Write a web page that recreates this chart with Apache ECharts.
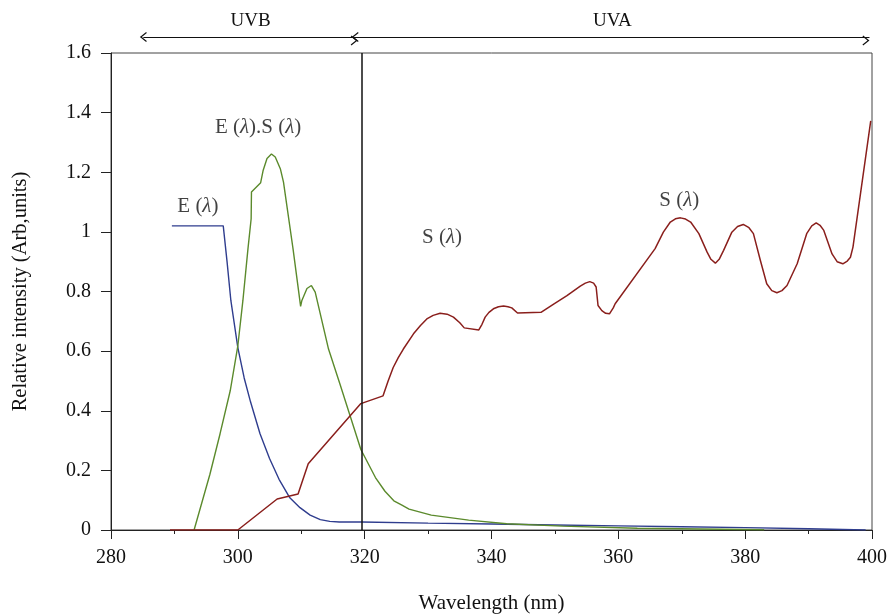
<!DOCTYPE html>
<html>
<head>
<meta charset="utf-8">
<script src="https://cdn.jsdelivr.net/npm/echarts@6/dist/echarts.min.js"></script>
<style>
  html, body { margin: 0; padding: 0; background: #fff; }
  #chart { width: 888px; height: 614px; }
</style>
</head>
<body>
<div id="chart"></div>
<script>
// E(λ) - lamp emission
var eWl = [289.6, 297.7, 298.3, 298.9, 300.0, 301.0, 302.0, 303.5, 305.0, 306.5, 308.2, 309.8, 311.4, 313.0, 314.5, 316.0, 319.5, 330, 340, 350, 360, 370, 380, 390, 399];
var eVal = [1.02, 1.02, 0.9, 0.77, 0.612, 0.51, 0.43, 0.323, 0.24, 0.17, 0.108, 0.075, 0.05, 0.035, 0.029, 0.027, 0.027, 0.023, 0.02, 0.017, 0.014, 0.011, 0.008, 0.004, 0];

// E(λ).S(λ)
var esWl = [293.1, 295.6, 297.2, 298.8, 300.0, 300.8, 301.6, 302.1, 302.15, 303.6, 304.0, 304.6, 305.3, 305.9, 306.7, 307.2, 308.7, 309.9, 310.1, 310.9, 311.6, 312.2, 314.3, 316.1, 317.7, 319.4, 321.7, 323.2, 324.6, 325.8, 327.0, 330.5, 336.4, 342.4, 351.2, 363, 383];
var esVal = [0, 0.187, 0.323, 0.467, 0.618, 0.77, 0.944, 1.044, 1.134, 1.165, 1.207, 1.246, 1.261, 1.251, 1.212, 1.167, 0.944, 0.75, 0.77, 0.81, 0.82, 0.798, 0.607, 0.49, 0.383, 0.27, 0.176, 0.13, 0.098, 0.084, 0.07, 0.05, 0.033, 0.021, 0.013, 0.006, 0.001];

// S(λ)
var sWl = [289.3, 300.0, 306.2, 309.5, 311.1, 319.4, 322.9, 323.7, 324.5, 325.3, 326.1, 327.7, 328.8, 329.8, 330.8, 331.9, 333.0, 334.0, 335.0, 335.7, 338.0, 338.5, 339.0, 339.6, 340.3, 341.1, 341.9, 342.6, 343.2, 344.1, 347.8, 349.8, 351.9, 354.0, 354.8, 355.5, 356.1, 356.5, 356.8, 357.4, 358.0, 358.6, 359.2, 359.5, 365.8, 367.1, 368.2, 369.0, 369.8, 370.6, 371.4, 372.7, 374.0, 374.6, 375.3, 375.9, 376.6, 377.9, 378.8, 379.7, 380.6, 381.3, 382.4, 383.4, 384.2, 385.0, 385.8, 386.6, 388.2, 389.7, 390.5, 391.2, 391.8, 392.4, 393.7, 394.5, 395.4, 396.1, 396.6, 397.0, 399.8];
var sVal = [0, 0, 0.104, 0.121, 0.222, 0.424, 0.45, 0.5, 0.545, 0.578, 0.607, 0.658, 0.686, 0.708, 0.72, 0.727, 0.724, 0.714, 0.695, 0.678, 0.671, 0.69, 0.714, 0.73, 0.742, 0.749, 0.751, 0.749, 0.745, 0.728, 0.73, 0.758, 0.786, 0.818, 0.828, 0.833, 0.828, 0.815, 0.753, 0.736, 0.727, 0.725, 0.745, 0.759, 0.944, 0.999, 1.033, 1.044, 1.047, 1.043, 1.033, 0.994, 0.932, 0.908, 0.895, 0.908, 0.938, 0.999, 1.018, 1.025, 1.014, 0.994, 0.904, 0.826, 0.803, 0.796, 0.803, 0.82, 0.893, 0.994, 1.02, 1.03, 1.022, 1.005, 0.926, 0.9, 0.893, 0.902, 0.915, 0.949, 1.372];

// band split + band arrows (wavelengths)
var bandSplit = 319.5;
var bandNames = ["UVB", "UVA"];
var bandFrom = [285.1, 318.5];
var bandTo = [318.9, 399.6];

// curve labels
var labelText = ["E (λ)", "E (λ).S (λ)", "S (λ)", "S (λ)"];
var labelWl = [293.7, 303.2, 332.2, 369.6];
var labelVal = [1.086, 1.351, 0.981, 1.106];

var FONT = "Liberation Serif";
var INK = "#111";

function zip(a, b) {
  return a.map(function (v, i) { return [v, b[i]]; });
}

var chevron = "path://M5,0 L10,7 L9,7.8 L5,2.2 L1,7.8 L0,7 Z";

var myChart = echarts.init(document.getElementById("chart"));

var option = {
  animation: false,
  grid: [
    { left: 111, right: 16, top: 53, bottom: 84, outerBoundsMode: "none", show: true, borderColor: "#444", borderWidth: 1 },
    { left: 111, right: 16, top: 25, height: 24, outerBoundsMode: "none" },
  ],
  xAxis: [
    {
      type: "value",
      min: 280,
      max: 400,
      interval: 20,
      name: "Wavelength (nm)",
      nameLocation: "middle",
      nameGap: 63,
      nameTextStyle: { fontFamily: FONT, fontSize: 21, color: INK },
      axisLine: { show: true, onZero: false, lineStyle: { color: "#222", width: 1 } },
      axisTick: { show: true, length: 9, lineStyle: { color: "#222" } },
      minorTick: { show: true, splitNumber: 2, length: 4, lineStyle: { color: "#222" } },
      splitLine: { show: false },
      axisLabel: { fontFamily: FONT, fontSize: 20, color: INK, margin: 18 },
    },
    { type: "value", gridIndex: 1, min: 280, max: 400, show: false },
  ],
  yAxis: [
    {
      type: "value",
      min: 0,
      max: 1.6,
      interval: 0.2,
      name: "Relative intensity (Arb,units)",
      nameLocation: "middle",
      nameGap: 80,
      nameTextStyle: { fontFamily: FONT, fontSize: 20.5, color: INK },
      axisLine: { show: true, onZero: false, lineStyle: { color: "#222", width: 1 } },
      axisTick: { show: true, length: 10, lineStyle: { color: "#222" } },
      splitLine: { show: false },
      axisLabel: { fontFamily: FONT, fontSize: 20, color: INK, margin: 20 },
    },
    { type: "value", gridIndex: 1, min: 0, max: 1, show: false },
  ],
  series: [
    {
      name: "E",
      type: "line",
      data: zip(eWl, eVal),
      showSymbol: false,
      lineStyle: { color: "#2f3d8e", width: 1.4 },
      z: 3,
    },
    {
      name: "ES",
      type: "line",
      data: zip(esWl, esVal),
      showSymbol: false,
      lineStyle: { color: "#5b8a2c", width: 1.4 },
      z: 3,
    },
    {
      name: "S",
      type: "line",
      data: zip(sWl, sVal),
      showSymbol: false,
      lineStyle: { color: "#8a1f1c", width: 1.5 },
      z: 4,
    },
    {
      name: "split",
      type: "line",
      data: [],
      markLine: {
        silent: true,
        symbol: ["none", "none"],
        label: { show: false },
        lineStyle: { color: "#111", width: 1.5, type: "solid" },
        data: [{ xAxis: bandSplit }],
      },
    },
    {
      name: "bands",
      type: "line",
      xAxisIndex: 1,
      yAxisIndex: 1,
      data: [],
      markLine: {
        silent: true,
        symbol: [chevron, chevron],
        symbolSize: [10, 7],
        symbolOffset: [0, 3.5],
        lineStyle: { color: "#111", width: 1.2, type: "solid" },
        label: {
          show: true,
          position: "middle",
          formatter: "{b}",
          fontFamily: FONT,
          fontSize: 19,
          color: INK,
          distance: 6,
        },
        data: bandNames.map(function (n, i) {
          return [{ name: n, coord: [bandFrom[i], 0.5] }, { coord: [bandTo[i], 0.5] }];
        }),
      },
    },
    {
      name: "labels",
      type: "scatter",
      symbolSize: 1,
      itemStyle: { color: "rgba(0,0,0,0)" },
      data: labelText.map(function (t, i) {
        return { name: t, value: [labelWl[i], labelVal[i]] };
      }),
      label: {
        show: true,
        position: "inside",
        fontFamily: FONT,
        fontSize: 21,
        color: INK,
        formatter: function (p) {
          return p.name.replace(/λ/g, "{i|λ}");
        },
        rich: {
          i: { fontFamily: FONT, fontSize: 21, fontStyle: "italic", color: INK },
        },
      },
      z: 5,
    },
  ],
};

myChart.setOption(option);
window.addEventListener("resize", function () {
  myChart.resize();
});
</script>
</body>
</html>
